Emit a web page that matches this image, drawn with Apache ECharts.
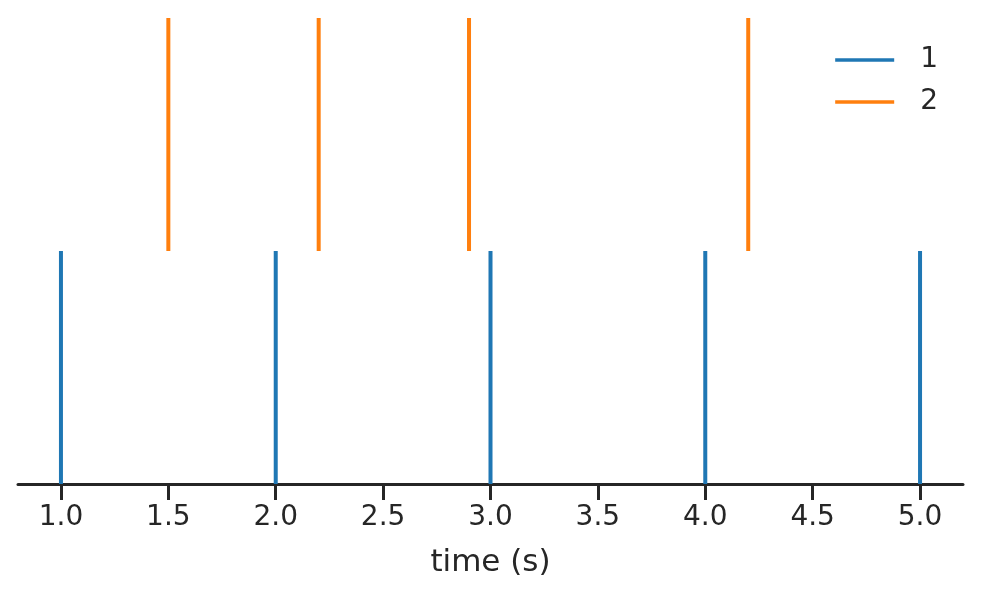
<!DOCTYPE html>
<html lang="en">
<head>
  <meta charset="UTF-8">
  <title>Event plot</title>
  <style>
    html, body { margin: 0; padding: 0; background: #fff; }
    #chart { width: 982px; height: 598px; }
  </style>
</head>
<body>
  <div id="chart"></div>
  <script src="https://cdn.jsdelivr.net/npm/echarts@6/dist/echarts.min.js"></script>
  <script>
    // spike times per train
    var names = ['1', '2']
    var times1 = [1.0, 2.0, 3.0, 4.0, 5.0]
    var times2 = [1.5, 2.2, 2.9, 4.2]
    var offsets = [1, 2]
    var tickValues = [1.0, 1.5, 2.0, 2.5, 3.0, 3.5, 4.0, 4.5, 5.0]
    var colors = ['#1f77b4', '#ff7f0e']

    var chart = echarts.init(document.getElementById('chart'))

    function spikes(times, off) {
      return times.map(function (t) { return [t, off] })
    }

    function renderSpike(params, api) {
      var x = api.value(0), off = api.value(1)
      var p0 = api.coord([x, off - 0.5])
      var p1 = api.coord([x, off + 0.5])
      return {
        type: 'line',
        shape: { x1: p0[0], y1: p0[1], x2: p1[0], y2: p1[1] },
        style: { stroke: api.visual('color'), lineWidth: 4 }
      }
    }

    var font = 'DejaVu Sans'
    var ink = '#262626'
    var option = {
      animation: false,
      backgroundColor: '#fff',
      color: colors,
      textStyle: { fontFamily: font },
      grid: { left: 18, right: 19, top: 18, bottom: 114 },
      legend: {
        right: 39,
        top: 41,
        orient: 'vertical',
        icon: 'rect',
        itemWidth: 59,
        itemHeight: 3.5,
        itemGap: 14,
        textStyle: { fontSize: 28, color: ink, fontFamily: font, padding: [0, 0, 0, 21] },
        data: names
      },
      xAxis: {
        type: 'value',
        min: 0.8,
        max: 5.2,
        name: 'time (s)',
        nameLocation: 'middle',
        nameGap: 63,
        nameTextStyle: { fontSize: 31, color: ink, fontFamily: font },
        axisLine: { show: true, onZero: false, lineStyle: { color: ink, width: 3 } },
        axisTick: { show: true, length: 16, lineStyle: { color: ink, width: 3 }, customValues: tickValues },
        axisLabel: {
          fontSize: 28, color: ink, fontFamily: font, margin: 20,
          customValues: tickValues,
          formatter: function (v) { return v.toFixed(1) }
        },
        splitLine: { show: false }
      },
      yAxis: {
        type: 'value',
        min: 0.5,
        max: 2.5,
        show: false
      },
      series: [
        { name: names[0], type: 'custom', renderItem: renderSpike, data: spikes(times1, offsets[0]) },
        { name: names[1], type: 'custom', renderItem: renderSpike, data: spikes(times2, offsets[1]) }
      ]
    }
    chart.setOption(option)
  </script>
</body>
</html>
